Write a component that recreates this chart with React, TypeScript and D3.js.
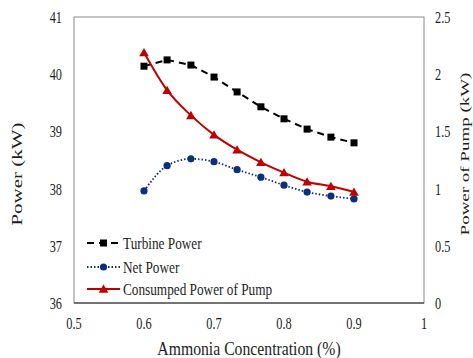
import { useEffect, useRef } from "react";
import * as d3 from "d3";

const concentration = [0.6, 0.633, 0.667, 0.7, 0.733, 0.767, 0.8, 0.833, 0.867, 0.9];
const turbinePower = [40.14, 40.25, 40.16, 39.95, 39.69, 39.43, 39.22, 39.04, 38.9, 38.8];
const netPower = [37.96, 38.4, 38.52, 38.47, 38.33, 38.2, 38.06, 37.94, 37.87, 37.82];
const pumpPower = [2.19, 1.86, 1.64, 1.47, 1.34, 1.23, 1.14, 1.06, 1.02, 0.97];

const xTicks = [0.5, 0.6, 0.7, 0.8, 0.9, 1];
const leftTicks = [36, 37, 38, 39, 40, 41];
const rightTicks = [0, 0.5, 1, 1.5, 2, 2.5];

const legendLabels = ["Turbine Power", "Net Power", "Consumped Power of Pump"];

const FONT = "Liberation Serif, Times New Roman, serif";
const INK = "#1e1e1e";

export default function App() {
  const ref = useRef<SVGSVGElement>(null);

  useEffect(() => {
    const svg = d3.select(ref.current);
    svg.selectAll("*").remove();

    const width = 473;
    const height = 358;
    const margin = { top: 17, right: 49, bottom: 55, left: 74 };

    const x = d3.scaleLinear().domain([0.5, 1]).range([margin.left, width - margin.right]);
    const yL = d3.scaleLinear().domain([36, 41]).range([height - margin.bottom, margin.top]);
    const yR = d3.scaleLinear().domain([0, 2.5]).range([height - margin.bottom, margin.top]);

    svg.attr("width", width).attr("height", height);
    svg.append("rect").attr("width", width).attr("height", height).attr("fill", "#fff");

    // the source text is narrow, so glyphs get squeezed across
    const addText = (tx: number, ty: number, str: string, size: number, squeeze: number, anchor = "start", rot = 0) =>
      svg
        .append("text")
        .attr(
          "transform",
          rot ? `translate(${tx},${ty}) rotate(${rot}) scale(1,${squeeze})` : `translate(${tx},${ty}) scale(${squeeze},1)`
        )
        .attr("text-anchor", anchor)
        .attr("font-family", FONT)
        .attr("font-size", size)
        .attr("fill", INK)
        .text(str);

    // frame
    svg
      .append("rect")
      .attr("x", margin.left)
      .attr("y", margin.top)
      .attr("width", width - margin.left - margin.right)
      .attr("height", height - margin.top - margin.bottom)
      .attr("fill", "none")
      .attr("stroke", "#8c8c8c")
      .attr("stroke-width", 1);
    svg
      .append("line")
      .attr("x1", margin.left)
      .attr("x2", width - margin.right)
      .attr("y1", height - margin.bottom)
      .attr("y2", height - margin.bottom)
      .attr("stroke", "#222")
      .attr("stroke-width", 1.2);

    // tick labels
    const fmt = d3.format("");
    xTicks.forEach((t) => addText(x(t), 329, fmt(t), 16, 0.77, "middle"));
    leftTicks.forEach((t) => addText(62, yL(t) + 6, fmt(t), 16, 0.77, "end"));
    rightTicks.forEach((t) => addText(435, yR(t) + 6, fmt(t), 16, 0.77, "start"));

    // axis titles
    addText((margin.left + width - margin.right) / 2, 355, "Ammonia Concentration (%)", 18.5, 0.85, "middle");
    addText(22, 174, "Power (kW)", 21, 0.65, "middle", -90);
    addText(469, 154, "Power of Pump (kW)", 19, 0.7, "middle", -90);

    const series = [
      { values: turbinePower, y: yL, color: "#000", dash: "7,5", curve: d3.curveLinear, marker: "square" },
      { values: netPower, y: yL, color: "#0b2f7a", dash: "1.5,2", curve: d3.curveMonotoneX, marker: "circle" },
      { values: pumpPower, y: yR, color: "#c00000", dash: null, curve: d3.curveMonotoneX, marker: "triangle" },
    ];

    const drawMarker = (g: any, kind: string, cx: number, cy: number, color: string) => {
      if (kind === "square") {
        g.append("rect").attr("x", cx - 3.5).attr("y", cy - 3.5).attr("width", 7).attr("height", 7).attr("fill", color);
      } else if (kind === "circle") {
        g.append("circle").attr("cx", cx).attr("cy", cy).attr("r", 3.6).attr("fill", color);
      } else {
        g.append("path")
          .attr("d", d3.symbol(d3.symbolTriangle, 40)())
          .attr("transform", `translate(${cx},${cy + 1})`)
          .attr("fill", color);
      }
    };

    series.forEach((s) => {
      const pts = concentration.map((c, i) => [x(c), s.y(s.values[i])] as [number, number]);
      const line = d3.line().curve(s.curve);
      svg
        .append("path")
        .attr("d", line(pts))
        .attr("fill", "none")
        .attr("stroke", s.color)
        .attr("stroke-width", s.dash === "1.5,2" ? 1.8 : 2)
        .attr("stroke-dasharray", s.dash);
      const mg = svg.append("g");
      pts.forEach(([px, py]) => drawMarker(mg, s.marker, px, py, s.color));
    });

    // legend
    const lg = svg.append("g");
    series.forEach((s, i) => {
      const ly = [243, 267, 289][i];
      lg.append("line")
        .attr("x1", 87)
        .attr("x2", 120)
        .attr("y1", ly)
        .attr("y2", ly)
        .attr("stroke", s.color)
        .attr("stroke-width", 2)
        .attr("stroke-dasharray", s.dash);
      drawMarker(lg, s.marker, 103.5, ly, s.color);
      addText(123, ly + 6, legendLabels[i], 17, 0.78);
    });
  }, []);

  return <svg ref={ref} style={{ display: "block", position: "absolute", left: 0, top: 0 }}></svg>;
}
